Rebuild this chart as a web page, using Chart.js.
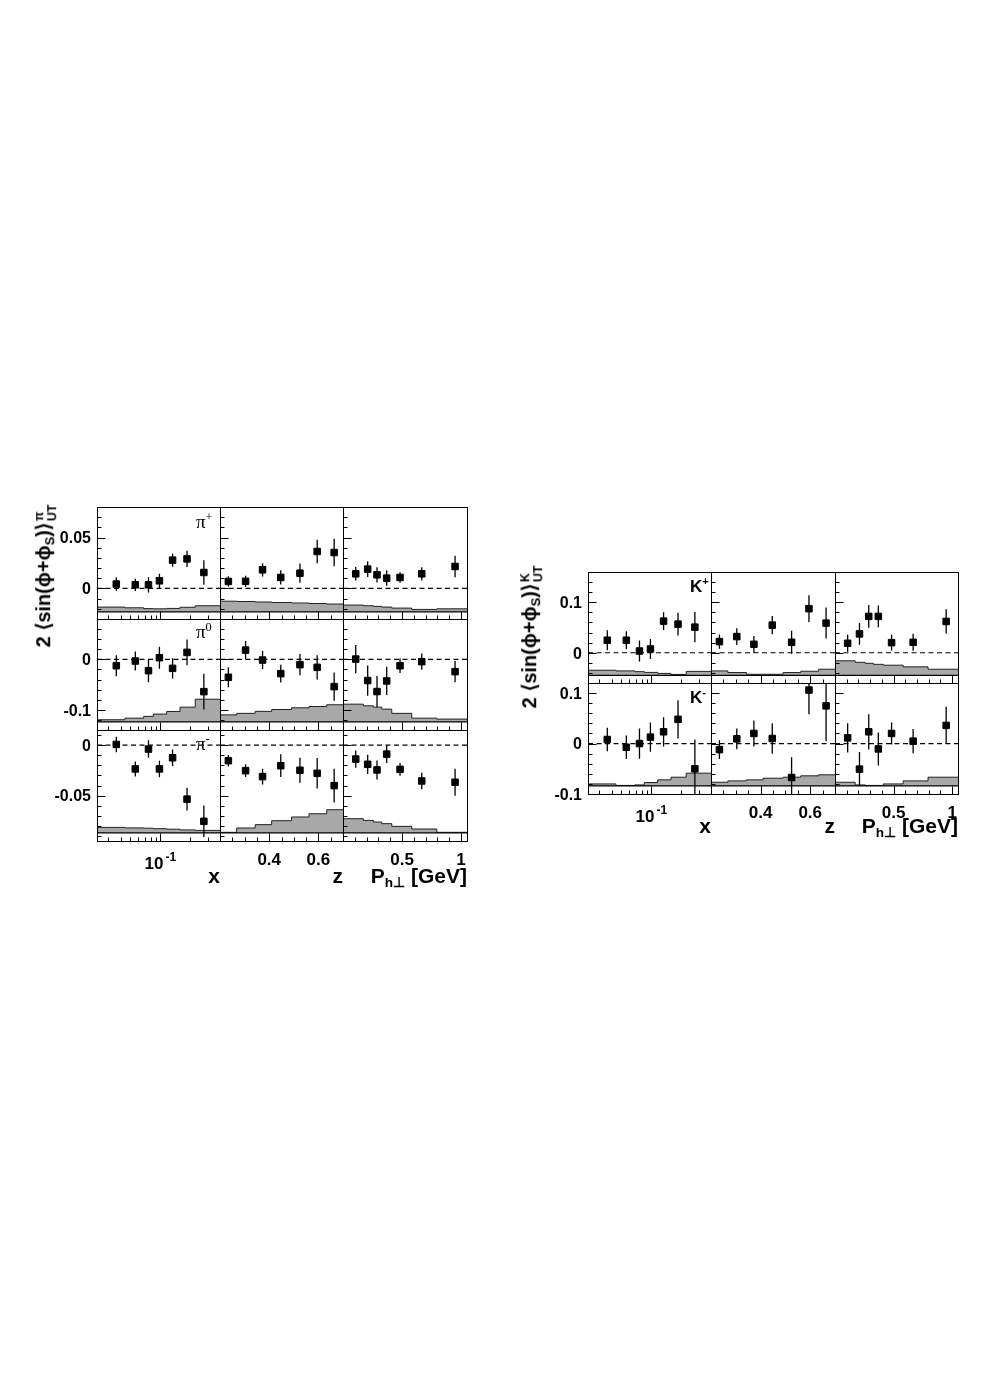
<!DOCTYPE html>
<html>
<head>
<meta charset="utf-8">
<script src="https://cdn.jsdelivr.net/npm/chart.js@4.4.1/dist/chart.umd.min.js"></script>
<style>
html, body { margin: 0; padding: 0; background: #fff; }
#page { position: relative; width: 988px; height: 1398px; overflow: hidden; background: #fff; }
#page canvas { position: absolute; }
.t { position: absolute; white-space: nowrap; color: #000; z-index: 5; }
.b { font-weight: bold; font-family: "Liberation Sans", Arial, sans-serif; }
.s { font-family: "Liberation Serif", "DejaVu Serif", serif; }
.t sup { font-size: 0.65em; line-height: 0; vertical-align: 0.6em; }
.t sub { font-size: 0.65em; line-height: 0; vertical-align: -0.3em; }
.ss { display: inline-flex; flex-direction: column; font-size: 0.62em; line-height: 1.05; vertical-align: 0.6em; margin-left: 1px; }
</style>
</head>
<body>
<div id="page"></div>
<script>
// bin centres (x, z, Ph_perp)
const xMean  = [0.036, 0.056, 0.076, 0.098, 0.133, 0.186, 0.275];
const zMean  = [0.234, 0.304, 0.373, 0.447, 0.525, 0.595, 0.664];
const phMean = [0.108, 0.209, 0.288, 0.370, 0.483, 0.667, 0.949];

// bin edges for the systematic band
const xEdges  = [0.023, 0.044, 0.068, 0.085, 0.116, 0.158, 0.225, 0.4];
const zEdges  = [0.2, 0.268, 0.343, 0.41, 0.491, 0.562, 0.634, 0.7];
const phEdges = [0, 0.172, 0.257, 0.328, 0.413, 0.582, 0.794, 1.05];

// x-axis ticks
const xMinorTicks  = [0.03, 0.04, 0.05, 0.06, 0.07, 0.08, 0.09, 0.2, 0.3];
const xMajorTicks  = [0.1];
const xTickLabels  = ['10^-1'];
const zMinorTicks  = [0.25, 0.3, 0.35, 0.45, 0.5, 0.55, 0.65];
const zMajorTicks  = [0.4, 0.6];
const zTickLabels  = ['0.4', '0.6'];
const phMinorTicks = [0.1, 0.2, 0.3, 0.4, 0.6, 0.7, 0.8, 0.9];
const phMajorTicks = [0.5, 1];
const phTickLabels = ['0.5', '1'];

// y-axis ticks per hadron
const piPlusMinor  = [-0.02, -0.01, 0.01, 0.02, 0.03, 0.04, 0.06, 0.07];
const piPlusMajor  = [0, 0.05];
const piPlusLabels = ['0', '0.05'];
const piZeroMinor  = [-0.12, -0.08, -0.06, -0.04, -0.02, 0.02, 0.04, 0.06];
const piZeroMajor  = [-0.1, 0];
const piZeroLabels = ['-0.1', '0'];
const piMinusMinor  = [-0.09, -0.08, -0.07, -0.06, -0.04, -0.03, -0.02, -0.01, 0.01];
const piMinusMajor  = [-0.05, 0];
const piMinusLabels = ['-0.05', '0'];
const kPlusMinor  = [-0.04, -0.02, 0.02, 0.04, 0.06, 0.08, 0.12, 0.14];
const kPlusMajor  = [0, 0.1];
const kPlusLabels = ['0', '0.1'];
const kMinusMinor  = [-0.08, -0.06, -0.04, -0.02, 0.02, 0.04, 0.06, 0.08];
const kMinusMajor  = [-0.1, 0, 0.1];
const kMinusLabels = ['-0.1', '0', '0.1'];

// pi+
const piPlusX      = [0.0043, 0.0036, 0.0036, 0.0075, 0.0278, 0.029, 0.0157];
const piPlusXErr   = [0.0066, 0.006, 0.0075, 0.007, 0.0065, 0.008, 0.012];
const piPlusXSys   = [-0.0183, -0.019, -0.0198, -0.02, -0.0196, -0.0185, -0.017];
const piPlusZ      = [0.0069, 0.007, 0.0183, 0.0108, 0.015, 0.0363, 0.0353];
const piPlusZErr   = [0.005, 0.0055, 0.0065, 0.007, 0.0095, 0.0115, 0.0135];
const piPlusZSys   = [-0.0125, -0.0128, -0.0133, -0.0138, -0.0143, -0.0148, -0.0153];
const piPlusPh     = [0.0144, 0.019, 0.0134, 0.0101, 0.0108, 0.0144, 0.0216];
const piPlusPhErr  = [0.0067, 0.0077, 0.0075, 0.0075, 0.0052, 0.0065, 0.0105];
const piPlusPhSys  = [-0.0163, -0.017, -0.0176, -0.0183, -0.0193, -0.0206, -0.02];

// pi0
const piZeroX      = [-0.0126, -0.0033, -0.0224, 0.0033, -0.0178, 0.0138, -0.064];
const piZeroXErr   = [0.021, 0.019, 0.023, 0.0217, 0.02, 0.0256, 0.0355];
const piZeroXSys   = [-0.1197, -0.1165, -0.113, -0.1085, -0.1033, -0.0947, -0.079];
const piZeroZ      = [-0.0355, 0.0184, -0.0013, -0.0283, -0.0105, -0.0158, -0.054];
const piZeroZErr   = [0.02, 0.018, 0.018, 0.0175, 0.021, 0.024, 0.028];
const piZeroZSys   = [-0.11, -0.107, -0.103, -0.0994, -0.096, -0.0934, -0.09];
const piZeroPh     = [0.0006, -0.042, -0.0638, -0.0428, -0.0126, -0.0046, -0.0244];
const piZeroPhErr  = [0.028, 0.03, 0.031, 0.028, 0.0145, 0.016, 0.021];
const piZeroPhSys  = [-0.0888, -0.092, -0.0947, -0.0986, -0.107, -0.1165, -0.1184];

// pi-
const piMinusX     = [0.0007, -0.0236, -0.0039, -0.0236, -0.0125, -0.0535, -0.0755];
const piMinusXErr  = [0.0077, 0.0074, 0.0087, 0.0082, 0.0082, 0.0113, 0.0156];
const piMinusXSys  = [-0.0815, -0.082, -0.0823, -0.0828, -0.0833, -0.084, -0.0845];
const piMinusZ     = [-0.0154, -0.0253, -0.0312, -0.0204, -0.0249, -0.0279, -0.0401];
const piMinusZErr  = [0.0057, 0.0064, 0.0079, 0.0113, 0.0123, 0.0151, 0.0167];
const piMinusZSys  = [-0.0864, -0.0821, -0.0788, -0.0749, -0.0712, -0.068, -0.064];
const piMinusPh    = [-0.0138, -0.019, -0.0246, -0.0089, -0.024, -0.0355, -0.0368];
const piMinusPhErr = [0.0085, 0.0095, 0.0094, 0.0087, 0.0064, 0.0082, 0.0133];
const piMinusPhSys = [-0.0729, -0.0746, -0.0762, -0.0778, -0.0805, -0.0831, -0.0864];

// K+
const kPlusX     = [0.0248, 0.0248, 0.0034, 0.0074, 0.0627, 0.0567, 0.0507];
const kPlusXErr  = [0.0197, 0.0177, 0.021, 0.02, 0.0177, 0.0227, 0.03];
const kPlusXSys  = [-0.0347, -0.036, -0.0375, -0.039, -0.041, -0.043, -0.037];
const kPlusZ     = [0.022, 0.032, 0.0167, 0.0547, 0.0207, 0.0873, 0.0587];
const kPlusZErr  = [0.0143, 0.0167, 0.0167, 0.0183, 0.0227, 0.0267, 0.0307];
const kPlusZSys  = [-0.036, -0.0393, -0.0427, -0.0427, -0.0393, -0.0367, -0.0327];
const kPlusPh    = [0.0187, 0.0373, 0.072, 0.072, 0.02, 0.0207, 0.062];
const kPlusPhErr = [0.0167, 0.0217, 0.0227, 0.0217, 0.0157, 0.0167, 0.024];
const kPlusPhSys = [-0.016, -0.019, -0.021, -0.023, -0.0247, -0.028, -0.0327];

// K-
const kMinusX     = [0.008, -0.0073, 0.0, 0.0127, 0.0233, 0.048, -0.05];
const kMinusXErr  = [0.0233, 0.0233, 0.03, 0.029, 0.029, 0.038, 0.058];
const kMinusXSys  = [-0.08, -0.083, -0.082, -0.0773, -0.072, -0.0667, -0.0587];
const kMinusZ     = [-0.012, 0.0093, 0.02, 0.01, -0.0673, 0.106, 0.0747];
const kMinusZErr  = [0.0187, 0.0207, 0.0257, 0.03, 0.04, 0.048, 0.07];
const kMinusZSys  = [-0.0767, -0.074, -0.072, -0.0687, -0.0667, -0.064, -0.062];
const kMinusPh    = [0.0113, -0.0507, 0.0233, -0.0107, 0.02, 0.0047, 0.036];
const kMinusPhErr = [0.029, 0.034, 0.035, 0.0327, 0.0217, 0.024, 0.0367];
const kMinusPhSys = [-0.0767, -0.082, -0.083, -0.083, -0.08, -0.074, -0.0667];

const columns = [
    { type: 'logarithmic', min: 0.023, max: 0.4, mean: xMean, edges: xEdges, minor: xMinorTicks, major: xMajorTicks, labels: xTickLabels, title: 'x' },
    { type: 'linear', min: 0.2, max: 0.7, mean: zMean, edges: zEdges, minor: zMinorTicks, major: zMajorTicks, labels: zTickLabels, title: 'z' },
    { type: 'linear', min: 0, max: 1.05, mean: phMean, edges: phEdges, minor: phMinorTicks, major: phMajorTicks, labels: phTickLabels, title: 'P<sub>h⊥</sub> [GeV]' }
];

const pionFigure = {
    left: 97, top: 507, colW: [123, 123, 124], rowH: [112, 111, 111],
    rows: [
        { yMin: -0.03, yMax: 0.08, base: -0.023, yMinor: piPlusMinor, yMajor: piPlusMajor, yLabels: piPlusLabels,
          sets: [[piPlusX, piPlusXErr, piPlusXSys], [piPlusZ, piPlusZErr, piPlusZSys], [piPlusPh, piPlusPhErr, piPlusPhSys]] },
        { yMin: -0.14, yMax: 0.08, base: -0.124, yMinor: piZeroMinor, yMajor: piZeroMajor, yLabels: piZeroLabels,
          sets: [[piZeroX, piZeroXErr, piZeroXSys], [piZeroZ, piZeroZErr, piZeroZSys], [piZeroPh, piZeroPhErr, piZeroPhSys]] },
        { yMin: -0.095, yMax: 0.015, base: -0.087, yMinor: piMinusMinor, yMajor: piMinusMajor, yLabels: piMinusLabels,
          sets: [[piMinusX, piMinusXErr, piMinusXSys], [piMinusZ, piMinusZErr, piMinusZSys], [piMinusPh, piMinusPhErr, piMinusPhSys]] }
    ]
};

const kaonFigure = {
    left: 588, top: 572, colW: [123, 124, 123], rowH: [111, 111],
    rows: [
        { yMin: -0.06, yMax: 0.16, base: -0.045, yMinor: kPlusMinor, yMajor: kPlusMajor, yLabels: kPlusLabels,
          sets: [[kPlusX, kPlusXErr, kPlusXSys], [kPlusZ, kPlusZErr, kPlusZSys], [kPlusPh, kPlusPhErr, kPlusPhSys]] },
        { yMin: -0.1, yMax: 0.12, base: -0.084, yMinor: kMinusMinor, yMajor: kMinusMajor, yLabels: kMinusLabels,
          sets: [[kMinusX, kMinusXErr, kMinusXSys], [kMinusZ, kMinusZErr, kMinusZSys], [kMinusPh, kMinusPhErr, kMinusPhSys]] }
    ]
};

const FONT = '"Liberation Sans", Arial, sans-serif';
Chart.defaults.font.family = FONT;

// frame, inward ticks and tick labels in ROOT style
const rootAxes = {
    id: 'rootAxes',
    afterDraw(chart, args, o) {
        const { ctx, chartArea: a, scales: { x, y } } = chart;
        const L = Math.round(a.left) + 0.5, T = Math.round(a.top) + 0.5;
        const R = Math.round(a.right) + 0.5, B = Math.round(a.bottom) + 0.5;
        ctx.save();
        ctx.strokeStyle = '#000';
        ctx.lineWidth = 1;
        ctx.strokeRect(L, T, R - L, B - T);
        ctx.beginPath();
        o.yMinor.forEach(v => { const p = Math.round(y.getPixelForValue(v)) + 0.5; ctx.moveTo(L, p); ctx.lineTo(L + 4, p); });
        o.yMajor.forEach(v => { const p = Math.round(y.getPixelForValue(v)) + 0.5; ctx.moveTo(L, p); ctx.lineTo(L + 8, p); });
        o.xMinor.forEach(v => { const p = Math.round(x.getPixelForValue(v)) + 0.5; ctx.moveTo(p, B); ctx.lineTo(p, B - 4); });
        o.xMajor.forEach(v => { const p = Math.round(x.getPixelForValue(v)) + 0.5; ctx.moveTo(p, B); ctx.lineTo(p, B - 8); });
        ctx.stroke();
        ctx.fillStyle = '#000';
        if (o.yLabels) {
            ctx.font = 'bold 16px ' + FONT;
            ctx.textAlign = 'right';
            ctx.textBaseline = 'alphabetic';
            o.yMajor.forEach((v, i) => ctx.fillText(o.yLabels[i], a.left - 6, y.getPixelForValue(v) + 5.8));
        }
        if (o.xLabels) {
            ctx.textAlign = 'left';
            ctx.textBaseline = 'alphabetic';
            o.xMajor.forEach((v, i) => {
                const [txt, sup] = o.xLabels[i].split('^');
                const px = x.getPixelForValue(v);
                ctx.font = 'bold 17px ' + FONT;
                const w1 = ctx.measureText(txt).width;
                let w2 = 0;
                if (sup) { ctx.font = 'bold 12px ' + FONT; w2 = ctx.measureText(sup).width + 2; }
                const x0 = px - (w1 + w2) / 2;
                ctx.font = 'bold 17px ' + FONT;
                ctx.fillText(txt, x0, a.bottom + (sup ? 28 : 24));
                if (sup) { ctx.font = 'bold 12px ' + FONT; ctx.fillText(sup, x0 + w1 + 2, a.bottom + 20); }
            });
        }
        ctx.restore();
    }
};

// vertical statistical error bars
const errorBars = {
    id: 'errorBars',
    afterDatasetsDraw(chart) {
        const { ctx, chartArea: a, scales: { x, y } } = chart;
        chart.data.datasets.forEach(ds => {
            if (!ds.errors) return;
            ctx.save();
            ctx.beginPath();
            ctx.rect(a.left, a.top, a.right - a.left, a.bottom - a.top);
            ctx.clip();
            ctx.strokeStyle = '#000';
            ctx.lineWidth = 1.3;
            ctx.beginPath();
            ds.data.forEach((p, i) => {
                const px = x.getPixelForValue(p.x);
                ctx.moveTo(px, y.getPixelForValue(p.y - ds.errors[i]));
                ctx.lineTo(px, y.getPixelForValue(p.y + ds.errors[i]));
            });
            ctx.stroke();
            ctx.restore();
        });
    }
};

const page = document.getElementById('page');
const sum = a => a.reduce((s, v) => s + v, 0);

function drawPanel(fig, r, c) {
    const row = fig.rows[r], col = columns[c];
    const [vals, errs, sys] = row.sets[c];
    const w = fig.colW[c], h = fig.rowH[r];
    const left = fig.left + sum(fig.colW.slice(0, c));
    const top = fig.top + sum(fig.rowH.slice(0, r));
    const isLeft = c === 0, isBottom = r === fig.rows.length - 1;
    const pad = { left: isLeft ? 66 : 2, right: 12, top: 2, bottom: isBottom ? 40 : 2 };

    const cv = document.createElement('canvas');
    cv.width = w + pad.left + pad.right;
    cv.height = h + pad.top + pad.bottom;
    cv.style.left = (left - pad.left) + 'px';
    cv.style.top = (top - pad.top) + 'px';
    cv.style.width = cv.width + 'px';
    cv.style.height = cv.height + 'px';
    page.appendChild(cv);

    new Chart(cv, {
        type: 'line',
        data: {
            datasets: [
                {
                    data: col.mean.map((m, i) => ({ x: m, y: vals[i] })),
                    errors: errs,
                    showLine: false,
                    pointStyle: 'rect',
                    pointRadius: 4.6,
                    pointBackgroundColor: '#000',
                    pointBorderColor: '#000',
                    pointBorderWidth: 1
                },
                {
                    data: [{ x: col.min, y: 0 }, { x: col.max, y: 0 }],
                    borderColor: '#000',
                    borderWidth: 1.2,
                    borderDash: [5, 3.5],
                    pointRadius: 0
                },
                {
                    data: [{ x: col.min, y: row.base }, { x: col.max, y: row.base }],
                    borderColor: '#000',
                    borderWidth: 1.3,
                    pointRadius: 0
                },
                {
                    data: col.edges.map((e, i) => ({ x: e, y: sys[Math.min(i, sys.length - 1)] })),
                    stepped: 'before',
                    fill: { value: row.base },
                    backgroundColor: '#a8a8a8',
                    borderColor: '#222',
                    borderWidth: 1,
                    pointRadius: 0
                }
            ]
        },
        options: {
            responsive: false,
            animation: false,
            devicePixelRatio: 1,
            events: [],
            layout: { autoPadding: false, padding: pad },
            plugins: {
                legend: { display: false },
                tooltip: { enabled: false },
                rootAxes: {
                    yMinor: row.yMinor, yMajor: row.yMajor, yLabels: isLeft ? row.yLabels : null,
                    xMinor: col.minor, xMajor: col.major, xLabels: isBottom ? col.labels : null
                }
            },
            scales: {
                x: { type: col.type, min: col.min, max: col.max, display: false },
                y: { type: 'linear', min: row.yMin, max: row.yMax, display: false }
            }
        },
        plugins: [rootAxes, errorBars]
    });
}

function addText(html, x, baseline, size, cls, align) {
    const d = document.createElement('div');
    d.className = 't ' + cls;
    d.innerHTML = html;
    d.style.fontSize = size + 'px';
    d.style.lineHeight = size + 'px';
    d.style.top = (baseline - 0.85 * size) + 'px';
    d.style.left = x + 'px';
    if (align === 'right') d.style.transform = 'translateX(-100%)';
    page.appendChild(d);
}

function addYTitle(sup, cx, cy) {
    const d = document.createElement('div');
    d.className = 't b';
    d.innerHTML = '2 ⟨sin(ϕ+ϕ<sub>S</sub>)⟩<span class="ss"><span>' + sup + '</span><span>UT</span></span>';
    d.style.fontSize = '20px';
    d.style.lineHeight = '24px';
    d.style.left = cx + 'px';
    d.style.top = cy + 'px';
    d.style.transform = 'translate(-50%, -50%) rotate(-90deg)';
    page.appendChild(d);
}

function drawFigure(fig, titleBase) {
    fig.rows.forEach((row, r) => columns.forEach((col, c) => drawPanel(fig, r, c)));
    let right = fig.left;
    columns.forEach((col, c) => {
        right += fig.colW[c];
        addText(col.title, right, titleBase, 21, 'b', 'right');
    });
}

drawFigure(pionFigure, 883);
drawFigure(kaonFigure, 833);

addYTitle('π', 45, 576);
addYTitle('K', 531, 637);

addText('π<sup>+</sup>', 196, 528, 19, 's');
addText('π<sup>0</sup>', 196, 638, 19, 's');
addText('π<sup>-</sup>', 196, 750, 19, 's');
addText('K<sup>+</sup>', 690, 592, 17, 'b');
addText('K<sup>-</sup>', 690, 703, 17, 'b');
</script>
</body>
</html>
